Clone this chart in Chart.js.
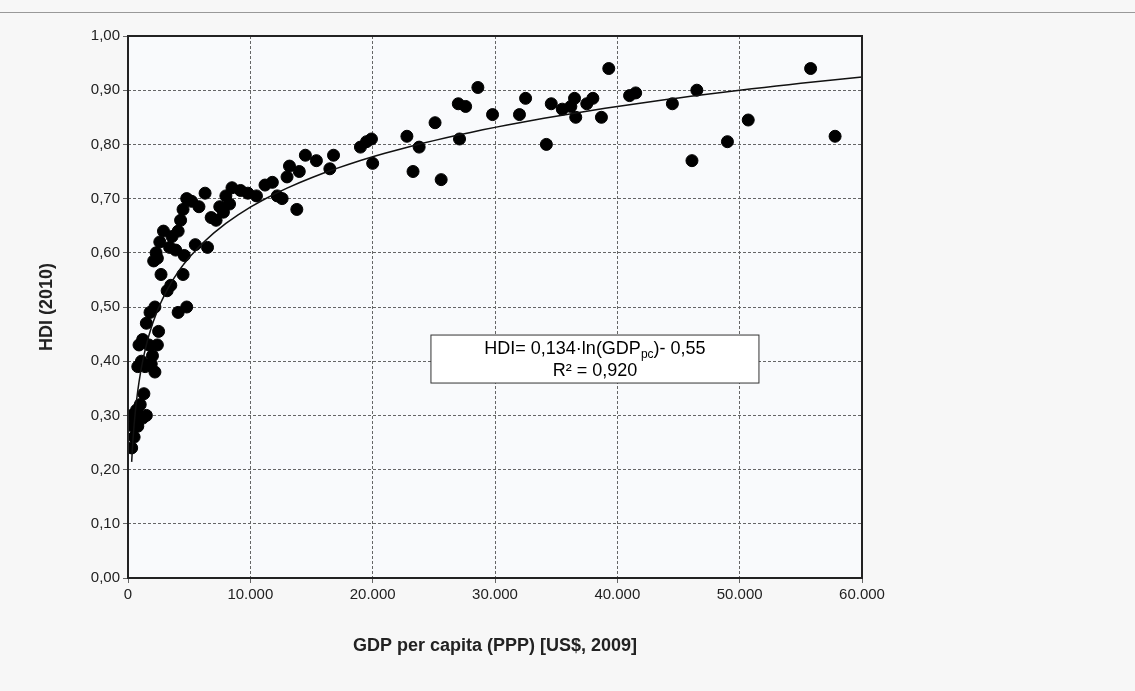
<!DOCTYPE html>
<html><head><meta charset="utf-8">
<script src="https://cdn.jsdelivr.net/npm/chart.js@4"></script>
<style>
body{margin:0;background:#f7f7f7;overflow:hidden;}
#top{position:absolute;left:0;top:12px;width:1135px;border-top:1px solid #999;}
#c{position:absolute;left:0;top:0;}
</style></head><body>
<div id="top"></div>
<canvas id="c" width="1135" height="691"></canvas>
<script>
const gdp = [39300,55800,57800,50700,49000,46100,46500,44500,41000,41500,38700,38000,37500,36500,36200,36600,35500,34600,34200,32500,32000,29800,28600,27600,27000,27100,25600,25100,23800,23300,22800,20000,19900,19500,19000,16800,16500,15400,14500,14000,13800,13200,13000,12600,12200,11800,11200,10500,9800,9200,8500,8000,8300,7800,7500,7200,6800,6300,6500,5800,5500,5200,4800,4500,4300,4100,4600,4500,4800,4100,3600,3900,3400,3200,3500,2900,2600,2400,2100,2700,2300,1800,2200,2500,2400,2200,2000,1500,1200,900,1700,1100,1400,800,1900,1300,1000,700,600,400,300,900,1200,500,300,1500,800];
const hdi = [0.94,0.94,0.815,0.845,0.805,0.77,0.90,0.875,0.89,0.895,0.85,0.885,0.875,0.885,0.87,0.85,0.865,0.875,0.80,0.885,0.855,0.855,0.905,0.87,0.875,0.81,0.735,0.84,0.795,0.75,0.815,0.765,0.81,0.805,0.795,0.78,0.755,0.77,0.78,0.75,0.68,0.76,0.74,0.70,0.705,0.73,0.725,0.705,0.71,0.715,0.72,0.705,0.69,0.675,0.685,0.66,0.665,0.71,0.61,0.685,0.615,0.695,0.70,0.68,0.66,0.64,0.595,0.56,0.50,0.49,0.63,0.605,0.61,0.53,0.54,0.64,0.62,0.59,0.585,0.56,0.60,0.49,0.50,0.455,0.43,0.38,0.41,0.47,0.44,0.43,0.43,0.40,0.39,0.39,0.395,0.34,0.32,0.31,0.30,0.28,0.30,0.30,0.295,0.26,0.24,0.30,0.28];
const fitA = 0.134, fitB = -0.55;
const fitX = [];
for (let x = 300; x <= 60000; x += (x < 5000 ? 100 : 1000)) fitX.push(x);

const FONT = '"Liberation Sans", Arial, sans-serif';
const fmtNum = v => v.toLocaleString('de-DE');
const labelBox = {
  id: 'labelBox',
  afterDraw(chart) {
    const {ctx, scales:{x, y}} = chart;
    const cx = x.getPixelForValue(38170), cy = y.getPixelForValue(0.404);
    ctx.save();
    ctx.fillStyle = '#fff'; ctx.strokeStyle = '#333'; ctx.lineWidth = 1;
    ctx.fillRect(cx - 164, cy - 24, 328, 48); ctx.strokeRect(cx - 164, cy - 24, 328, 48);
    ctx.fillStyle = '#000'; ctx.textBaseline = 'middle';
    const p1 = 'HDI= 0,134·ln(GDP', p2 = ')- 0,55';
    ctx.font = '18px ' + FONT; const w1 = ctx.measureText(p1).width;
    ctx.font = '12px ' + FONT; const ws = ctx.measureText('pc').width;
    ctx.font = '18px ' + FONT; const w2 = ctx.measureText(p2).width;
    const sx = cx - (w1 + ws + w2) / 2;
    ctx.textAlign = 'left';
    ctx.fillText(p1, sx, cy - 10);
    ctx.font = '12px ' + FONT; ctx.fillText('pc', sx + w1, cy - 4);
    ctx.font = '18px ' + FONT; ctx.fillText(p2, sx + w1 + ws, cy - 10);
    ctx.textAlign = 'center'; ctx.fillText('R² = 0,920', cx, cy + 12);
    ctx.restore();
  }
};
const plotBg = {
  id: 'plotBg',
  beforeDraw(chart) {
    const {ctx, chartArea:a} = chart;
    ctx.save(); ctx.fillStyle = '#f9fafc'; ctx.fillRect(a.left, a.top, a.width, a.height); ctx.restore();
  },
  afterDatasetsDraw(chart) {
    const {ctx, chartArea:a} = chart;
    ctx.save(); ctx.strokeStyle = '#222'; ctx.lineWidth = 2; ctx.strokeRect(a.left, a.top, a.width, a.height); ctx.restore();
  }
};

new Chart(document.getElementById('c'), {
  type: 'scatter',
  data: {
    datasets: [
      { data: gdp.map((g, i) => ({x: g, y: hdi[i]})), backgroundColor: '#000', borderColor: '#000', pointRadius: 6, order: 2 },
      { type: 'line', data: fitX.map(x => ({x, y: fitA * Math.log(x) + fitB})), borderColor: '#111', borderWidth: 1.5, pointRadius: 0, fill: false, order: 1 }
    ]
  },
  options: {
    responsive: false, animation: false,
    layout: { padding: { top: 36, right: 273, left: 0, bottom: 30 } },
    plugins: { legend: { display: false }, tooltip: { enabled: false } },
    scales: {
      x: {
        type: 'linear', min: 0, max: 60000,
        afterFit: s => { s.height = 83; },
        ticks: { stepSize: 10000, autoSkip: false, maxRotation: 0, callback: v => fmtNum(v), color: '#222', font: { size: 15, family: FONT } },
        grid: { color: '#666', tickLength: 5 },
        border: { display: false, dash: [3, 2] },
        title: { display: true, text: 'GDP per capita (PPP) [US$, 2009]', color: '#222', font: { size: 18, weight: 'bold', family: FONT } }
      },
      y: {
        min: 0, max: 1,
        afterFit: s => { s.width = 128; },
        ticks: { stepSize: 0.1, autoSkip: false, callback: v => v.toFixed(2).replace('.', ','), color: '#222', font: { size: 15, family: FONT } },
        grid: { color: '#666', tickLength: 5 },
        border: { display: false, dash: [3, 2] },
        title: { display: true, text: 'HDI (2010)', color: '#222', font: { size: 18, weight: 'bold', family: FONT }, padding: { top: 36 } }
      }
    }
  },
  plugins: [plotBg, labelBox]
});
</script>
</body></html>
